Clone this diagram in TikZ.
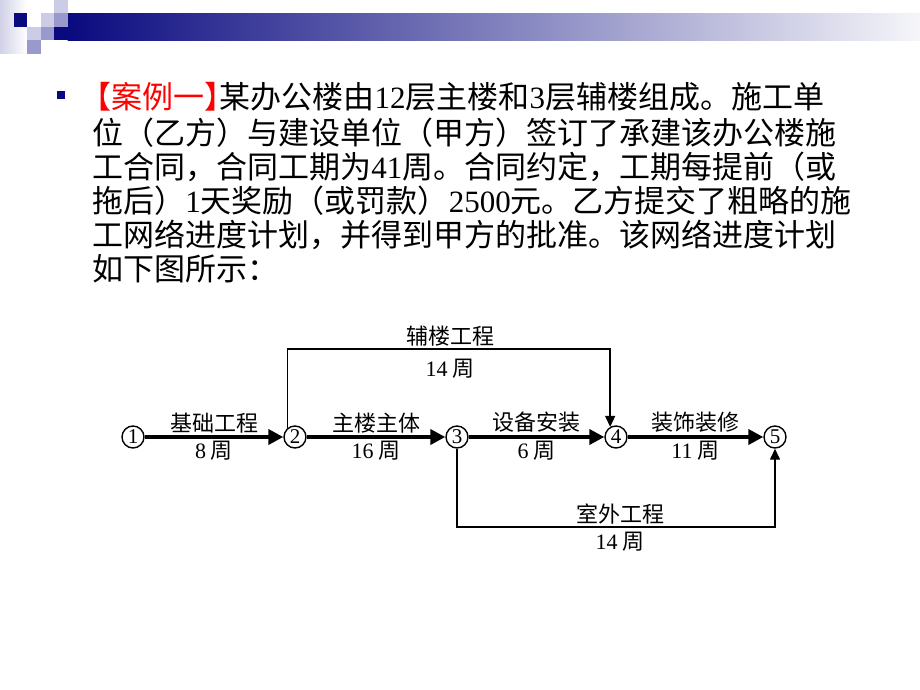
\documentclass[tikz,border=0pt]{standalone}
\usepackage{fontspec}
\setmainfont{Liberation Serif}
\newfontfamily\cjk{Noto Sans CJK SC}
\usetikzlibrary{arrows.meta,positioning,calc}
\definecolor{navy}{HTML}{0A0A80}
\definecolor{lav}{HTML}{CCCCE6}
\definecolor{midlav}{HTML}{9999CC}
\newcommand\dg[1]{{\rmfamily #1}}

\begin{document}
\begin{tikzpicture}[x=0.5pt,y=-0.5pt,
   txt/.style={anchor=base west,inner sep=0pt,font=\fontsize{15.5pt}{17pt}\selectfont\cjk},
   evt/.style={draw,circle,line width=0.7pt,minimum size=11pt,inner sep=0pt,font=\fontsize{10.5pt}{10.5pt}\selectfont\rmfamily},
   work/.style={line width=2.2pt,-{Triangle[length=7.5pt,width=7.5pt]}},
   aux/.style={line width=0.7pt,-{Triangle[length=5.5pt,width=5pt]}},
   lab/.style={font=\fontsize{11pt}{13pt}\selectfont\cjk,inner sep=1pt}]

   \useasboundingbox (0,0) rectangle (920,690);

   % header band
   \shade[left color=lav!90,right color=white] (0,0) rectangle (27,54);
   \shade[left color=navy,right color=white!96!navy] (67.5,13.5) rectangle (920,40.5);
   \fill[navy] (13.5,13.5) rectangle +(13.5,13.5);
   \fill[lav] (27,27) rectangle +(13.5,13.5);
   \fill[midlav] (27,40.5) rectangle +(13.5,13.5);
   \fill[lav] (40.5,13.5) rectangle +(13.5,13.5);
   \fill[midlav] (40.5,27) rectangle +(13.5,13.5);
   \fill[lav] (54,0) rectangle +(13.5,13.5);
   \fill[midlav] (54,13.5) rectangle +(13.5,13.5);
   \fill[navy] (54,27) rectangle +(13.5,13.5);

   % text
   \fill[navy] (57,91) rectangle (65,99);
   \node[txt] (l1) at (92,109) {\kern-.4em{\color{red}【案例一】}\kern-.5em 某办公楼由\dg{12}层主楼和\dg{3}层辅楼组成。施工单};
   \node[txt] (l2) at (92,144) {位（乙方）与建设单位（甲方）签订了承建该办公楼施};
   \node[txt] (l3) at (92,178) {工合同，合同工期为\dg{41}周。合同约定，工期每提前（或};
   \node[txt] (l4) at (92,212) {拖后）\dg{1}天奖励（或罚款）\dg{2500}元。乙方提交了粗略的施};
   \node[txt] (l5) at (92,246) {工网络进度计划，并得到甲方的批准。该网络进度计划};
   \node[txt] (l6) at (92,280) {如下图所示：};

   % network
   \foreach \i/\x in {1/133,2/295,3/457,4/616,5/775}
      \node[evt] (n\i) at (\x,437) {\i};

   \path[work] (n1) edge node[lab,above] (w1) {基础工程} node[lab,below] (w1t) {\dg{8} 周} (n2)
   (n2) edge node[lab,above] (w2) {主楼主体} node[lab,below] (w2t) {\dg{16} 周} (n3)
   (n3) edge node[lab,above] (w3) {设备安装} node[lab,below] (w3t) {\dg{6} 周} (n4)
   (n4) edge node[lab,above] (w4) {装饰装修} node[lab,below] (w4t) {\dg{11} 周} (n5);

   \coordinate (top) at (450,349);
   \coordinate (bot) at (620,527);
   \draw[aux] (n2.130) |- (top) -| (n4.120);
   \draw[aux] (n3.south) |- (bot) -| (n5.south);
   \node[lab,above] (fl) at (top) {辅楼工程};
   \node[lab,below=4pt] (flt) at (top) {\dg{14} 周};
   \node[lab,above] (sw) at (bot) {室外工程};
   \node[lab,below=1.5pt] (swt) at (bot) {\dg{14} 周};

 \end{tikzpicture}
\end{document}
